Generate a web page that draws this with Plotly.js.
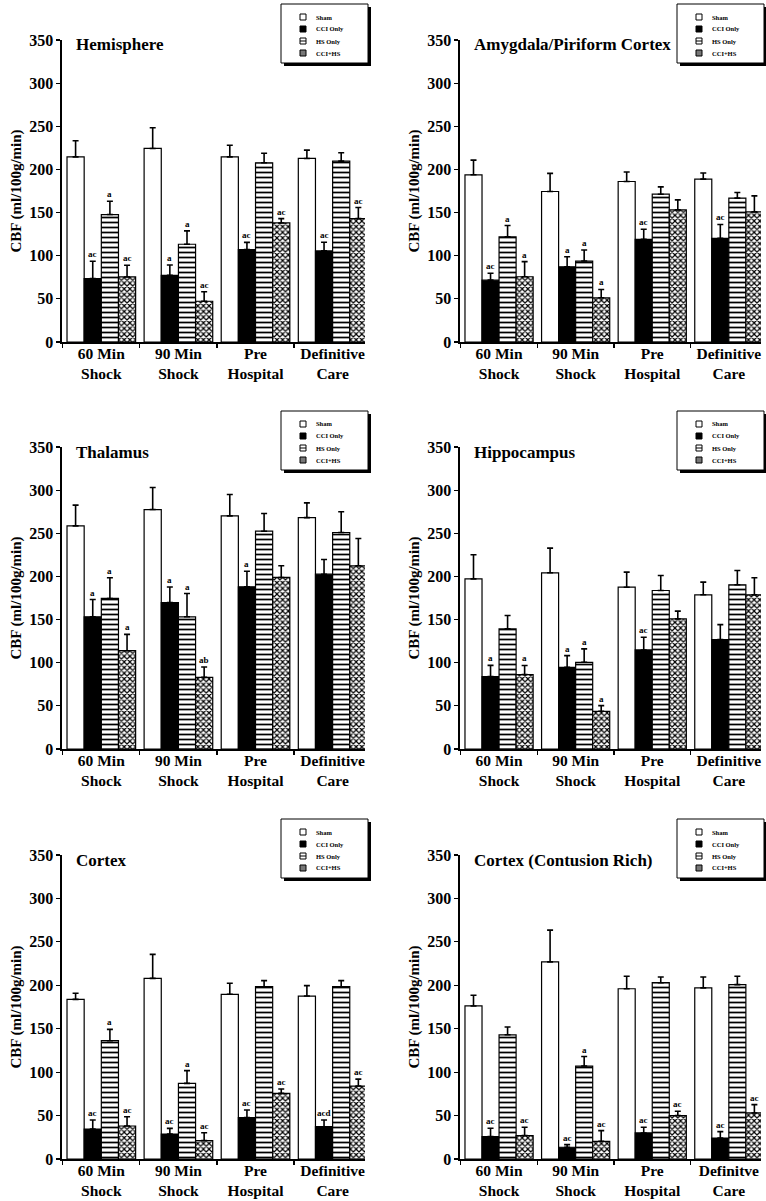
<!DOCTYPE html>
<html><head><meta charset="utf-8">
<script src="https://cdn.plot.ly/plotly-3.0.1.min.js"></script>
<style>html,body{margin:0;padding:0;background:#fff;}</style>
</head><body><div id="chart" style="width:766px;height:1201px;"></div>
<script>
// ---------------- data ----------------
const categories = ["60 Min<br>Shock", "90 Min<br>Shock", "Pre<br>Hospital", "Definitive<br>Care"];
const categoriesContusion = ["60 Min<br>Shock", "90 Min<br>Shock", "Pre<br>Hospital", "Definitve<br>Care"];
const seriesNames = ["Sham", "CCI Only", "HS Only", "CCI+HS"];
const panelTitles = ["Hemisphere", "Amygdala/Piriform Cortex", "Thalamus", "Hippocampus", "Cortex", "Cortex (Contusion Rich)"];
const yAxisTitle = "CBF (ml/100g/min)";

// rows = series (Sham, CCI Only, HS Only, CCI+HS); columns = categories
const hemisphereMean = [[214.6, 224.3, 214.6, 212.7], [73.5, 77.3, 107, 105.6], [147.7, 113.3, 207.7, 209.6], [75.4, 47.2, 138, 143]];
const hemisphereErr = [[18.6, 24, 13.5, 9.7], [20, 12, 8.5, 10], [15.5, 15.5, 11, 9.7], [13.5, 11, 5, 12.8]];
const hemisphereLetters = [["", "", "", ""], ["ac", "a", "ac", "ac"], ["a", "a", "", ""], ["ac", "ac", "ac", "ac"]];

const amygdalaMean = [[193.8, 174.4, 186, 188.8], [71.7, 87.2, 119, 120.2], [122, 93.8, 171.3, 166.7], [75.6, 51.2, 153.1, 150.8]];
const amygdalaErr = [[17, 21, 11, 7], [8, 11.6, 11.6, 16], [13, 12.8, 8.5, 6.6], [17.5, 9.7, 11.6, 18.6]];
const amygdalaLetters = [["", "", "", ""], ["ac", "a", "ac", "ac"], ["a", "a", "", ""], ["a", "a", "", ""]];

const thalamusMean = [[258.6, 277.5, 270.2, 268.2], [153.2, 169.8, 188, 202.6], [174.5, 153.2, 252.4, 250.9], [113.9, 83, 198.8, 212.3]];
const thalamusErr = [[24, 25.5, 24.7, 17], [20, 18, 18, 17], [24, 27, 20.5, 24], [19, 12, 13.5, 31.6]];
const thalamusLetters = [["", "", "", ""], ["a", "a", "a", ""], ["a", "a", "", ""], ["a", "ab", "", ""]];

const hippocampusMean = [[197.2, 204.2, 187.5, 178.7], [83.9, 94.7, 114.8, 126.8], [139.2, 100.5, 183.7, 190.3], [86.3, 43.7, 150.8, 178.7]];
const hippocampusErr = [[28, 28.6, 17.5, 14.7], [13, 13.5, 14.7, 17.4], [15.5, 15.5, 17.4, 16.6], [10.5, 6.6, 9, 19.7]];
const hippocampusLetters = [["", "", "", ""], ["a", "a", "ac", ""], ["", "a", "", ""], ["a", "a", "", ""]];

const cortexMean = [[183.8, 208, 189.6, 187.6], [34.5, 28.8, 47.6, 37.2], [136.2, 87.1, 198.4, 198.4], [38, 21.1, 75.6, 84]];
const cortexErr = [[7, 27.6, 12.7, 12], [10.4, 6.5, 8.8, 7.7], [13, 14.6, 7, 7], [10.7, 9.2, 5, 8]];
const cortexLetters = [["", "", "", ""], ["ac", "ac", "ac", "acd"], ["a", "a", "", ""], ["ac", "ac", "ac", "ac"]];

const contusionMean = [[176.2, 227, 196, 197], [25.8, 13.5, 30, 24.2], [143, 107, 203, 200.8], [26.9, 20.4, 50, 53]];
const contusionErr = [[12.3, 36.5, 14.4, 12.6], [9.6, 3, 6.5, 7.3], [9, 11, 6.6, 9.6], [9.6, 12.3, 5, 9.6]];
const contusionLetters = [["", "", "", ""], ["ac", "ac", "ac", "ac"], ["", "a", "", ""], ["ac", "ac", "ac", "ac"]];

const yTicks = [0, 50, 100, 150, 200, 250, 300, 350];

// ---------------- layout ----------------
const W = 766, H = 1201;
const FONT = "Liberation Serif, Times New Roman, serif";
const colPx = [[62, 365], [460, 761]];
const rowPx = [[40, 342], [447, 749], [855, 1159]];
const BARGAP = 0.11;
const barW = (1 - BARGAP) / 4;

const panels = [
  {title: panelTitles[0], cats: categories, mean: hemisphereMean, err: hemisphereErr, letters: hemisphereLetters},
  {title: panelTitles[1], cats: categories, mean: amygdalaMean, err: amygdalaErr, letters: amygdalaLetters},
  {title: panelTitles[2], cats: categories, mean: thalamusMean, err: thalamusErr, letters: thalamusLetters},
  {title: panelTitles[3], cats: categories, mean: hippocampusMean, err: hippocampusErr, letters: hippocampusLetters},
  {title: panelTitles[4], cats: categories, mean: cortexMean, err: cortexErr, letters: cortexLetters},
  {title: panelTitles[5], cats: categoriesContusion, mean: contusionMean, err: contusionErr, letters: contusionLetters}
];

function markerFor(s) {
  const line = {color: "black", width: 1.2};
  if (s === 0) return {color: "white", line};
  if (s === 1) return {color: "black", line};
  if (s === 2) return {color: "white", line, pattern: {shape: "-", fgcolor: "black", bgcolor: "white", size: 5, solidity: 0.35}};
  return {color: "white", line, pattern: {shape: "x", fgcolor: "black", bgcolor: "white", size: 4, solidity: 0.5}};
}

const px2x = p => p / W;
const px2y = p => 1 - p / H;

const traces = [];
const layout = {
  width: W, height: H,
  margin: {l: 0, r: 0, t: 0, b: 0},
  paper_bgcolor: "white", plot_bgcolor: "white",
  showlegend: false,
  barmode: "group", bargap: BARGAP, bargroupgap: 0,
  font: {family: FONT, color: "black", weight: "bold"},
  annotations: [], shapes: []
};

panels.forEach((p, i) => {
  const col = i % 2, row = Math.floor(i / 2);
  const suf = i === 0 ? "" : String(i + 1);
  const xa = "x" + suf, ya = "y" + suf;
  const [x0, x1] = colPx[col];
  const [y0, y1] = rowPx[row];

  layout["xaxis" + suf] = {
    domain: [px2x(x0), px2x(x1)], anchor: ya, type: "category",
    range: [-0.51, 3.42], showline: true, linewidth: 1.6, linecolor: "black",
    ticks: "outside", tickson: "boundaries", ticklen: 4, tickwidth: 1.2, tickcolor: "black",
    ticklabelstandoff: -3,
    showgrid: false, zeroline: false,
    tickfont: {family: FONT, size: 15.5, color: "black", weight: "bold"}
  };
  layout["yaxis" + suf] = {
    domain: [px2y(y1), px2y(y0)], anchor: xa, range: [0, 350],
    tickvals: yTicks, showline: true, linewidth: 1.6, linecolor: "black",
    ticks: "outside", ticklen: 4, tickwidth: 1.2, tickcolor: "black",
    showgrid: false, zeroline: false,
    tickfont: {family: FONT, size: 16, color: "black", weight: "bold"},
    title: {text: yAxisTitle, font: {family: FONT, size: 15, color: "black", weight: "bold"}}
  };

  for (let s = 0; s < 4; s++) {
    traces.push({
      type: "bar", x: p.cats, y: p.mean[s], name: seriesNames[s],
      xaxis: xa, yaxis: ya, showlegend: false, hoverinfo: "skip",
      marker: markerFor(s),
      error_y: {type: "data", symmetric: false, array: p.err[s], arrayminus: p.err[s].map(() => 0),
                color: "black", thickness: 1.6, width: 3}
    });
    p.letters[s].forEach((t, g) => {
      if (!t) return;
      layout.annotations.push({
        xref: xa, yref: ya, x: g + (s - 1.5) * barW, y: p.mean[s][g] + p.err[s][g],
        yanchor: "bottom", xanchor: "center", text: t, showarrow: false, yshift: 0,
        font: {family: FONT, size: 9, color: "black", weight: "bold"}
      });
    });
  }

  // panel title
  layout.annotations.push({
    xref: "paper", yref: "paper", x: px2x(x0 + 12), y: px2y(y0 + 5),
    xanchor: "left", yanchor: "middle", text: p.title, showarrow: false,
    font: {family: FONT, size: 17, color: "black", weight: "bold"}
  });

  // custom legend box (with drop shadow)
  const lx1 = x1 + 3, lx0 = lx1 - 87, ly0 = y0 - 36, ly1 = ly0 + 59;
  layout.shapes.push({type: "rect", xref: "paper", yref: "paper", x0: px2x(lx0 + 3), x1: px2x(lx1 + 3), y0: px2y(ly1 + 3), y1: px2y(ly0 + 3), fillcolor: "black", line: {width: 0}});
  layout.shapes.push({type: "rect", xref: "paper", yref: "paper", x0: px2x(lx0), x1: px2x(lx1), y0: px2y(ly1), y1: px2y(ly0), fillcolor: "white", line: {color: "black", width: 1}});
  seriesNames.forEach((nm, s) => {
    const cy = ly0 + 13 + s * 12;
    const sx = lx0 + 19;
    const fill = s === 1 ? "black" : (s === 3 ? "#777" : "white");
    layout.shapes.push({type: "rect", xref: "paper", yref: "paper", x0: px2x(sx), x1: px2x(sx + 6), y0: px2y(cy + 3), y1: px2y(cy - 3), fillcolor: fill, line: {color: "black", width: 1}});
    if (s === 2) {
      layout.shapes.push({type: "line", xref: "paper", yref: "paper", x0: px2x(sx), x1: px2x(sx + 6), y0: px2y(cy), y1: px2y(cy), line: {color: "black", width: 1}});
    }
    layout.annotations.push({
      xref: "paper", yref: "paper", x: px2x(lx0 + 33), y: px2y(cy), xanchor: "left", yanchor: "middle",
      text: nm, showarrow: false, font: {family: FONT, size: 6.5, color: "black", weight: "bold"}
    });
  });
});

Plotly.newPlot("chart", traces, layout, {staticPlot: true, displayModeBar: false});
</script></body></html>
